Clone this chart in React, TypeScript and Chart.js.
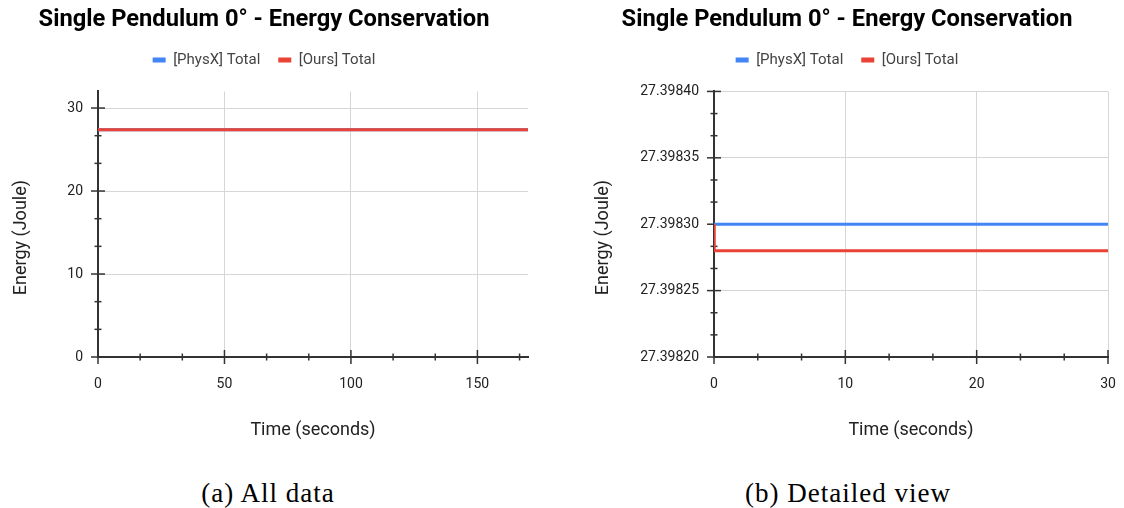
import React, { useEffect, useRef } from 'react';
import { Chart, registerables } from 'chart.js';

Chart.register(...registerables);

// ---- data ----
const timeSeconds = [0, 0.02, 10, 20, 30, 40, 50, 60, 70, 80, 90, 100, 110, 120, 130, 140, 150, 160, 170];
const physxTotal = [
  27.3983, 27.3983, 27.3983, 27.3983, 27.3983, 27.3983, 27.3983, 27.3983, 27.3983, 27.3983,
  27.3983, 27.3983, 27.3983, 27.3983, 27.3983, 27.3983, 27.3983, 27.3983, 27.3983,
];
const oursTotal = [
  27.3983, 27.39828, 27.39828, 27.39828, 27.39828, 27.39828, 27.39828, 27.39828, 27.39828, 27.39828,
  27.39828, 27.39828, 27.39828, 27.39828, 27.39828, 27.39828, 27.39828, 27.39828, 27.39828,
];
const seriesLabels = ['[PhysX] Total', '[Ours] Total'];
const seriesColors = ['#4285F4', '#EA4335'];
const chartTitle = 'Single Pendulum 0° - Energy Conservation';
const xAxisTitle = 'Time (seconds)';
const yAxisTitle = 'Energy (Joule)';

const allXTicks = [0, 50, 100, 150];
const allYTicks = [0, 10, 20, 30];
const allXRange = [0, 170];
const allYRange = [0, 32];

const detailXTicks = [0, 10, 20, 30];
const detailYTicks = [27.3982, 27.39825, 27.3983, 27.39835, 27.3984];
const detailXRange = [0, 30];
const detailYRange = [27.3982, 27.3984];

const captions = ['(a) All data', '(b) Detailed view'];

const FONT = 'Roboto';
const CANVAS_H = 443;
const X_SCALE_H = 86;

type PanelCfg = {
  left: number;
  width: number;
  padLeft: number;
  padRight: number;
  yWidth: number;
  yTitlePad: number;
  xTicks: number[];
  yTicks: number[];
  xRange: number[];
  yRange: number[];
  decimals: number;
};

const panels: PanelCfg[] = [
  { left: 0, width: 530, padLeft: 0, padRight: 2, yWidth: 98, yTitlePad: 11, xTicks: allXTicks, yTicks: allYTicks, xRange: allXRange, yRange: allYRange, decimals: 0 },
  { left: 582, width: 536, padLeft: 4, padRight: 10, yWidth: 128, yTitlePad: 7, xTicks: detailXTicks, yTicks: detailYTicks, xRange: detailXRange, yRange: detailYRange, decimals: 5 },
];

function makeTickPlugin(xTicks: number[], yTicks: number[]) {
  return {
    id: 'axisTicks',
    beforeDatasetsDraw(chart: any) {
      const { ctx, chartArea, scales } = chart;
      ctx.save();
      ctx.strokeStyle = '#333';
      ctx.lineWidth = 1.5;
      const drawSet = (scale: any, ticks: number[], isX: boolean) => {
        const step = (ticks[1] - ticks[0]) / 3;
        for (let k = 0; k < 500; k++) {
          const v = ticks[0] + k * step;
          if (v > scale.max + step * 1e-6) break;
          const major = k % 3 === 0;
          const len = major ? 7 : 3.5;
          const p = scale.getPixelForValue(v);
          ctx.beginPath();
          if (isX) {
            ctx.moveTo(p, chartArea.bottom - len);
            ctx.lineTo(p, chartArea.bottom + len);
          } else {
            ctx.moveTo(chartArea.left - len, p);
            ctx.lineTo(chartArea.left + len, p);
          }
          ctx.stroke();
        }
      };
      drawSet(scales.x, xTicks, true);
      drawSet(scales.y, yTicks, false);
      ctx.restore();
    },
  };
}

const legendGap = {
  id: 'legendGap',
  beforeInit(chart: any) {
    const lg = chart.legend;
    if (!lg) return;
    const orig = lg.fit;
    lg.fit = function () {
      orig.call(this);
      this.height += 14;
    };
  },
};

function Panel({ cfg }: { cfg: PanelCfg }) {
  const ref = useRef<HTMLCanvasElement | null>(null);
  useEffect(() => {
    if (!ref.current) return;
    const mk = (vals: number[]) => timeSeconds.map((t, i) => ({ x: t, y: vals[i] }));
    const chart = new Chart(ref.current, {
      type: 'line',
      data: {
        datasets: [
          {
            label: seriesLabels[0],
            data: mk(physxTotal),
            borderColor: seriesColors[0],
            backgroundColor: seriesColors[0],
            borderWidth: 3,
            pointRadius: 0,
            tension: 0,
            order: 1,
          },
          {
            label: seriesLabels[1],
            data: mk(oursTotal),
            borderColor: seriesColors[1],
            backgroundColor: seriesColors[1],
            borderWidth: 3,
            pointRadius: 0,
            tension: 0,
            order: 0,
          },
        ],
      },
      options: {
        responsive: false,
        maintainAspectRatio: false,
        devicePixelRatio: 1,
        animation: false,
        layout: { padding: { left: cfg.padLeft, right: cfg.padRight, top: 0, bottom: 0 } },
        plugins: {
          tooltip: { enabled: false },
          title: {
            display: true,
            text: chartTitle,
            color: '#000',
            font: { family: FONT, size: 23.7, weight: 'bold' },
            padding: { top: 6, bottom: 0 },
          },
          legend: {
            display: true,
            position: 'top',
            labels: {
              boxWidth: 13,
              boxHeight: 5,
              padding: 18,
              color: '#444',
              font: { family: FONT, size: 15 },
              generateLabels: (c: any) =>
                (Chart.defaults.plugins.legend.labels.generateLabels as any)(c).map((l: any) => ({
                  ...l,
                  lineWidth: 0,
                  strokeStyle: 'transparent',
                })),
              sort: (a: any, b: any) => a.datasetIndex - b.datasetIndex,
            },
          },
        },
        scales: {
          x: {
            type: 'linear',
            min: cfg.xRange[0],
            max: cfg.xRange[1],
            afterBuildTicks: (s: any) => {
              s.ticks = cfg.xTicks.map((v) => ({ value: v }));
            },
            afterFit: (s: any) => {
              s.height = X_SCALE_H;
              s.paddingRight = 0;
              s.paddingLeft = 0;
            },
            ticks: {
              padding: 19,
              color: '#222',
              font: { family: FONT, size: 14 },
              autoSkip: false,
              maxRotation: 0,
              callback: (v: any) => String(Number(v)),
            },
            grid: { color: '#d6d6d6', lineWidth: 1, drawTicks: false },
            border: { display: true, color: '#333', width: 2 },
            title: {
              display: true,
              text: xAxisTitle,
              color: '#222',
              font: { family: FONT, size: 18 },
              padding: { top: 20, bottom: 2 },
            },
          },
          y: {
            type: 'linear',
            min: cfg.yRange[0],
            max: cfg.yRange[1],
            afterBuildTicks: (s: any) => {
              s.ticks = cfg.yTicks.map((v) => ({ value: v }));
            },
            afterFit: (s: any) => {
              s.width = cfg.yWidth;
            },
            ticks: {
              padding: 15,
              color: '#222',
              font: { family: FONT, size: 14 },
              autoSkip: false,
              callback: (v: any) => Number(v).toFixed(cfg.decimals),
            },
            grid: { color: '#d6d6d6', lineWidth: 1, drawTicks: false },
            border: { display: true, color: '#333', width: 2 },
            title: {
              display: true,
              text: yAxisTitle + '\u00A0\u00A0\u00A0\u00A0\u00A0\u00A0',
              color: '#222',
              font: { family: FONT, size: 18 },
              padding: { top: cfg.yTitlePad, bottom: 0 },
            },
          },
        },
      } as any,
      plugins: [makeTickPlugin(cfg.xTicks, cfg.yTicks), legendGap],
    });
    return () => chart.destroy();
  }, [cfg]);
  return (
    <canvas
      ref={ref}
      width={cfg.width}
      height={CANVAS_H}
      style={{ position: 'absolute', left: cfg.left, top: 0, width: cfg.width, height: CANVAS_H }}
    />
  );
}

const captionCenters = [268, 848];

export default function App() {
  return (
    <div style={{ position: 'absolute', left: 0, top: 0, width: 1124, height: 508, background: '#fff', overflow: 'hidden' }}>
      {panels.map((p, i) => (
        <Panel key={i} cfg={p} />
      ))}
      {captions.map((c, i) => (
        <div
          key={c}
          style={{
            position: 'absolute',
            top: 480,
            left: captionCenters[i] - 200,
            width: 400,
            textAlign: 'center',
            fontFamily: '"Liberation Serif", serif',
            fontSize: 27,
            lineHeight: '27px',
            letterSpacing: '1px',
            color: '#000',
            whiteSpace: 'nowrap',
          }}
        >
          {c}
        </div>
      ))}
    </div>
  );
}
